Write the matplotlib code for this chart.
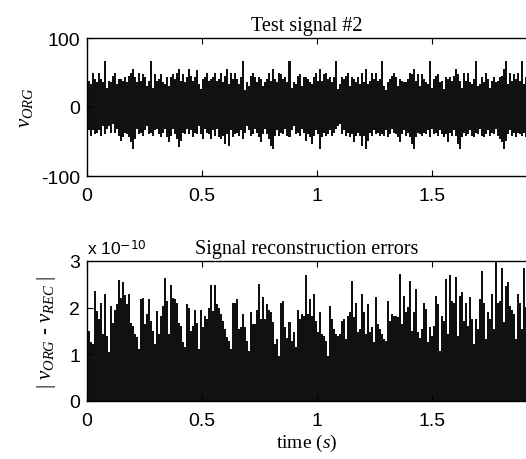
import numpy as np
import matplotlib
matplotlib.use("Agg")
import matplotlib.pyplot as plt

# ---------------- data ----------------
t_end = 1.909          # last visible sample time (s)
x_max = 1.913          # right end of the x axis
x_ticks = [0, 0.5, 1, 1.5]
x_ticklabels = ["0", "0.5", "1", "1.5"]

# Test signal #2: upper / lower envelopes of the dense signal
sig_upper = [55,38,33,50,41,36,50,41,36,67,28,38,36,45,50,33,41,41,38,43,36,45,50,55,43,36,50,38,48,43,31,38,67,28,48,38,41,48,36,33,43,31,43,48,41,50,55,38,48,36,43,55,45,38,43,53,33,26,41,43,50,38,41,43,50,38,41,50,36,45,55,33,50,41,
             50,41,33,43,67,24,36,31,45,50,43,36,43,41,31,36,41,50,38,55,41,36,50,48,41,43,36,67,28,36,33,45,48,31,43,43,41,36,33,43,50,38,55,38,48,50,41,43,36,43,67,26,33,43,41,45,50,31,43,41,36,43,33,50,36,55,33,38,50,41,50,38,41,
             67,31,24,36,41,45,50,43,31,41,38,36,36,41,50,48,55,38,48,31,48,41,36,33,67,28,41,45,48,36,38,26,43,41,43,38,45,55,48,38,28,50,38,50,36,33,41,67,31,33,43,36,50,41,28,38,43,36,38,43,45,55,67,33,50,38,48,41,50,38,67,33,43]
sig_lower = [-54,-34,-42,-34,-39,-37,-34,-42,-27,-39,-32,-27,-37,-25,-37,-32,-42,-49,-44,-37,-39,-44,-51,-61,-46,-32,-39,-37,-42,-34,-27,-39,-37,-42,-34,-32,-39,-44,-37,-32,-44,-51,-42,-32,-39,-46,-58,-49,-37,-39,-32,-39,-34,-44,-37,-39,-27,-39,-46,-32,-37,-39,-46,-34,-42,-32,-44,-46,-42,-54,-39,-56,-34,-44,
             -39,-37,-42,-34,-46,-37,-27,-34,-42,-39,-32,-37,-44,-51,-39,-32,-39,-46,-56,-61,-42,-34,-42,-37,-39,-32,-42,-44,-34,-27,-39,-37,-42,-32,-37,-49,-39,-44,-54,-42,-34,-39,-61,-44,-37,-42,-39,-34,-42,-37,-32,-27,-25,-39,-34,-42,-37,-44,-39,-51,-42,-37,-42,-56,-42,-61,-49,-37,-42,-34,-39,-37,-42,
             -39,-42,-34,-44,-39,-32,-37,-39,-44,-51,-39,-34,-42,-37,-44,-54,-61,-44,-37,-39,-42,-37,-39,-34,-44,-32,-39,-37,-42,-34,-39,-44,-39,-51,-37,-42,-34,-42,-54,-61,-44,-37,-42,-39,-34,-42,-44,-37,-39,-32,-42,-44,-39,-34,-42,-37,-39,-32,-42,-46,-51,-61,-49,-39,-34,-42,-37,-44,-37,-39,-42,-37,-44]

# Signal reconstruction errors (units of 1e-10)
err = [1.58,1.51,1.26,1.22,2.36,1.93,1.75,2.11,1.44,2.3,1.4,1.04,2.03,1.68,1.96,2.07,2.6,2.2,2.55,2.27,2.07,2.3,1.68,1.61,1.44,1.37,1.12,2.18,2.21,1.65,1.86,2.18,1.72,1.51,1.22,1.93,1.44,1.82,2.03,2.63,2.14,1.44,2.48,2.21,2.18,2.11,1.68,1.61,1.26,1.15,2.07,2.0,1.51,1.61,1.96,1.68,1.12,1.96,1.58,1.82,1.75,2.0,2.48,1.93,2.48,2.07,2.0,1.86,1.72,1.54,1.37,1.29,1.12,2.11,
       2.11,2.19,1.54,1.58,1.86,1.58,1.29,1.08,1.9,1.65,1.65,1.94,2.51,1.76,2.22,1.76,2.08,1.94,1.9,1.69,1.22,1.33,0.97,2.11,2.15,1.58,1.36,1.69,1.29,1.47,1.15,1.94,1.76,1.86,1.83,2.69,1.86,2.19,1.83,2.29,1.72,1.47,1.9,1.44,1.4,1.29,0.97,2.04,1.76,1.54,1.44,1.4,1.44,1.72,1.76,1.33,1.83,1.9,2.58,1.79,2.11,1.47,1.54,2.29,1.9,1.44,2.08,1.47,1.58,1.26,2.22,1.65,1.54,
       1.44,1.33,1.29,2.15,1.72,1.86,1.83,1.83,1.79,2.72,1.65,2.26,1.9,2.01,2.58,1.51,1.9,2.4,1.47,1.36,1.54,2.11,1.97,1.26,1.58,1.4,1.61,2.26,2.08,1.08,1.83,1.72,2.61,1.44,2.69,2.15,2.11,2.65,1.4,2.26,2.33,1.72,2.11,1.61,2.22,1.76,1.22,1.76,1.54,2.19,2.79,2.11,1.33,1.9,1.76,2.29,1.54,2.97,2.11,2.15,2.86,1.69,2.47,2.54,2.04,1.94,1.86,1.33,2.29,2.11,1.54,2.86,2.01]

top_yticks = [-100, 0, 100]
bot_yticks = [0, 1, 2, 3]

# ---------------- style ----------------
plt.rcParams['font.family'] = ['Liberation Sans', 'DejaVu Sans']
plt.rcParams['mathtext.fontset'] = 'custom'
plt.rcParams['mathtext.rm'] = 'Liberation Serif'
plt.rcParams['mathtext.it'] = 'Liberation Serif:italic'
SERIF = ['Liberation Serif', 'DejaVu Serif']
FILL = '#111111'

fig = plt.figure(figsize=(5.26, 4.60), dpi=100)
W, H = 526.0, 460.0
left = 87 / W
width = 440 / W
ax1 = fig.add_axes([left, 1 - 177 / H, width, 138 / H])
ax2 = fig.add_axes([left, 1 - 402 / H, width, 140 / H])

t1 = np.linspace(0, t_end, len(sig_upper))
t2 = np.linspace(0, t_end, len(err))

ax1.fill_between(t1, sig_lower, sig_upper, step='mid', color=FILL, linewidth=0)
ax2.fill_between(t2, 0, err, step='mid', color=FILL, linewidth=0)

for ax in (ax1, ax2):
    ax.set_xlim(0, x_max)
    ax.set_xticks(x_ticks)
    ax.set_xticklabels(x_ticklabels)
    ax.tick_params(direction='in', top=True, right=False, length=4,
                   labelsize=14, width=0.8)
    ax.tick_params(axis='x', pad=8)
    ax.tick_params(axis='y', pad=5)
    ax.spines['right'].set_visible(False)
    for s in ('left', 'top', 'bottom'):
        ax.spines[s].set_linewidth(1.0)

ax1.set_ylim(-100, 100)
ax1.set_yticks(top_yticks)
ax1.set_yticklabels([str(v) for v in top_yticks])
ax2.set_ylim(0, 3)
ax2.set_yticks(bot_yticks)
ax2.set_yticklabels([str(v) for v in bot_yticks])

ax1.set_title('Test signal #2', family=SERIF, fontsize=14.5, pad=6)
ax2.set_title('Signal reconstruction errors', family=SERIF, fontsize=14.5, pad=6)

ax1.set_ylabel(r'$v_{ORG}$', fontsize=15, labelpad=4)
ax2.set_ylabel(r'$|\ v_{ORG}$ - $v_{REC}\ |$', family=SERIF, fontsize=15, labelpad=8)
ax2.set_xlabel(r'time ($s$)', family=SERIF, fontsize=14, labelpad=2)

ax2.text(0.0, 1.03, r'x 10$^{\mathsf{-10}}$', transform=ax2.transAxes,
         fontsize=12.5, ha='left', va='bottom')

fig.savefig('out.png', dpi=100)
